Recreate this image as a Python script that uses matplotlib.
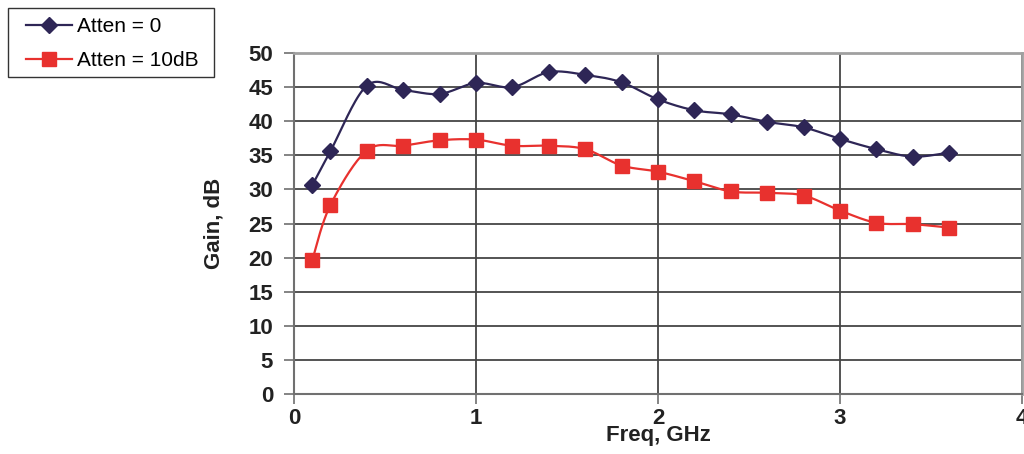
import numpy as np
import matplotlib
matplotlib.use("Agg")
import matplotlib.pyplot as plt
from matplotlib.patches import Rectangle

plt.rcParams['font.family'] = ['Liberation Sans', 'DejaVu Sans']

freq = [0.1, 0.2, 0.4, 0.6, 0.8, 1.0, 1.2, 1.4, 1.6, 1.8, 2.0, 2.2, 2.4, 2.6, 2.8, 3.0, 3.2, 3.4, 3.6]
gain_atten0 = [30.6, 35.6, 45.2, 44.6, 44.0, 45.6, 45.0, 47.2, 46.8, 45.7, 43.2,
               41.6, 41.0, 39.9, 39.1, 37.4, 35.9, 34.8, 35.4]
gain_atten10 = [19.6, 27.7, 35.7, 36.4, 37.2, 37.3, 36.4, 36.4, 35.9, 33.5, 32.6,
                31.2, 29.7, 29.5, 29.1, 26.9, 25.1, 24.9, 24.4]
labels = ["Atten = 0", "Atten = 10dB"]
xticks = [0, 1, 2, 3, 4]
yticks = [0, 5, 10, 15, 20, 25, 30, 35, 40, 45, 50]


def smooth(x, y, n=20):
    """Catmull-Rom style smoothing (like spreadsheet smoothed lines)."""
    x = np.asarray(x, float)
    y = np.asarray(y, float)
    xs, ys = [x[0]], [y[0]]
    t = np.linspace(0, 1, n + 1)[1:]
    for i in range(len(x) - 1):
        p0 = np.array([x[max(i - 1, 0)], y[max(i - 1, 0)]])
        p1 = np.array([x[i], y[i]])
        p2 = np.array([x[i + 1], y[i + 1]])
        p3 = np.array([x[min(i + 2, len(x) - 1)], y[min(i + 2, len(x) - 1)]])
        c1 = p1 + (p2 - p0) / 6.0
        c2 = p2 - (p3 - p1) / 6.0
        for tt in t:
            pt = ((1 - tt) ** 3) * p1 + 3 * ((1 - tt) ** 2) * tt * c1 + 3 * (1 - tt) * tt ** 2 * c2 + tt ** 3 * p2
            xs.append(pt[0])
            ys.append(pt[1])
    return np.array(xs), np.array(ys)


W, H = 1024, 454
fig = plt.figure(figsize=(W / 100, H / 100), dpi=100)
ax = fig.add_axes([294 / W, 1 - 394 / H, (1022 - 294) / W, (394 - 53) / H])

c0 = '#2E2656'
c1 = '#E8312E'

sx, sy = smooth(freq, gain_atten0)
ax.plot(sx, sy, color=c0, lw=1.6, zorder=3)
ax.plot(freq, gain_atten0, ls='none', marker='D', ms=8, color=c0, zorder=4)
sx, sy = smooth(freq, gain_atten10)
ax.plot(sx, sy, color=c1, lw=1.6, zorder=3)
ax.plot(freq, gain_atten10, ls='none', marker='s', ms=9.5, color=c1, zorder=4)

# legend proxies
h0, = ax.plot([], [], color=c0, lw=1.6, marker='D', ms=8)
h1, = ax.plot([], [], color=c1, lw=1.6, marker='s', ms=9.5)
leg = fig.legend([h0, h1], labels, loc='upper left', bbox_to_anchor=(26 / W, 1 - 17 / H),
                 borderaxespad=0, fontsize=15, handlelength=2.2, handletextpad=0.25,
                 frameon=False, labelspacing=0.72, borderpad=0)
fig.patches.append(Rectangle((8 / W, 1 - 77 / H), (214 - 8) / W, (77 - 8) / H,
                             transform=fig.transFigure, fill=False,
                             edgecolor='#333333', lw=1.0))

ax.set_xlim(0, 4)
ax.set_ylim(0, 50)
ax.set_xticks(xticks)
ax.set_yticks(yticks)
ax.set_xticklabels([str(v) for v in xticks], fontsize=16, fontweight='bold', color='#222222')
ax.set_yticklabels([str(v) for v in yticks], fontsize=16, fontweight='bold', color='#222222')
ax.tick_params(axis='both', direction='out', length=7, width=1.2, color='#707070', pad=8)
ax.tick_params(axis='x', pad=3)

ax.grid(True, color='#454545', lw=1.3)
ax.set_axisbelow(True)
for side in ['left', 'bottom']:
    ax.spines[side].set_color('#707070')
    ax.spines[side].set_linewidth(1.5)
for side in ['top', 'right']:
    ax.spines[side].set_color('#a0a0a0')
    ax.spines[side].set_linewidth(2)

ax.set_xlabel('Freq, GHz', fontsize=16, fontweight='bold', color='#222222', labelpad=-3)
ax.set_ylabel('Gain, dB', fontsize=16, fontweight='bold', color='#222222', labelpad=17)

fig.savefig('out.png', dpi=100)
